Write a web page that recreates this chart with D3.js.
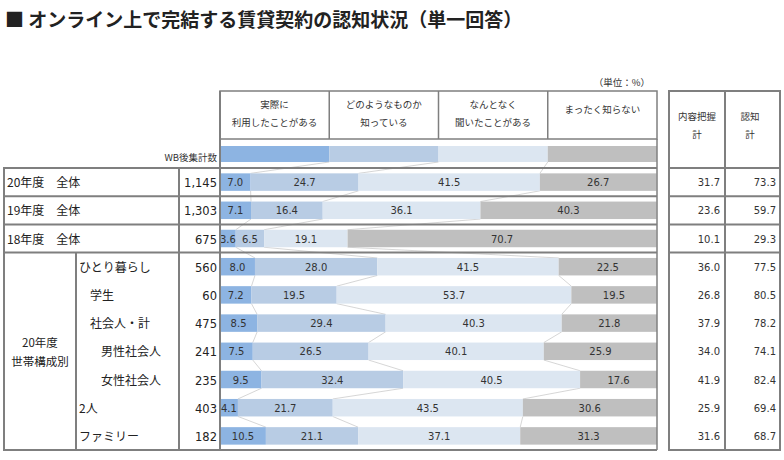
<!DOCTYPE html>
<html><head><meta charset="utf-8">
<script src="https://cdn.jsdelivr.net/npm/d3@7"></script>
<style>
html,body{margin:0;padding:0;background:#fff;}
svg{display:block;}
</style></head>
<body>
<svg id="c" width="784" height="460"></svg>
<script>
const title = "■ オンライン上で完結する賃貸契約の認知状況（単一回答）";
const unitLabel = "（単位：%）";
const countLabel = "WB後集計数";
const categories = ["20年度　全体","19年度　全体","18年度　全体","ひとり暮らし","学生","社会人・計","男性社会人","女性社会人","2人","ファミリー"];
const levels = [0,0,0,0,1,1,2,2,0,0];
const groupLabel = ["20年度","世帯構成別"];
const counts = [1145,1303,675,560,60,475,241,235,403,182];
const seriesNames = [["実際に","利用したことがある"],["どのようなものか","知っている"],["なんとなく","聞いたことがある"],["まったく知らない"]];
const used = [7.0,7.1,3.6,8.0,7.2,8.5,7.5,9.5,4.1,10.5];
const knowWhat = [24.7,16.4,6.5,28.0,19.5,29.4,26.5,32.4,21.7,21.1];
const heard = [41.5,36.1,19.1,41.5,53.7,40.3,40.1,40.5,43.5,37.1];
const notKnow = [26.7,40.3,70.7,22.5,19.5,21.8,25.9,17.6,30.6,31.3];
const totalHeaders = [["内容把握","計"],["認知","計"]];
const contentTotal = [31.7,23.6,10.1,36.0,26.8,37.9,34.0,41.9,25.9,31.6];
const awareTotal = [73.3,59.7,29.3,77.5,80.5,78.2,74.1,82.4,69.4,68.7];

const colors = ["#8db4e2","#b8cce4","#dce6f1","#bfbfbf"];
const lineCol = "#7f7f7f";
const jp = "'Noto Sans CJK JP','Noto Sans',sans-serif";
const num = "'DejaVu Sans',Verdana,sans-serif";

const svg = d3.select("#c");
const keys = ["s0","s1","s2","s3"];
const rows = categories.map((c,i)=>({cat:c,s0:used[i],s1:knowWhat[i],s2:heard[i],s3:notKnow[i]}));
const stacked = d3.stack().keys(keys)(rows);

const x = d3.scaleLinear().domain([0,100]).range([220,657]);
const y = d3.scaleBand().domain(categories).range([168,450]).paddingInner(0.38).paddingOuter(0.19);
const yRow = d3.scaleBand().domain(categories).range([168,450]);

// title
svg.append("text").attr("x",5).attr("y",27).attr("font-family",jp).attr("font-weight","bold")
  .attr("font-size",19).attr("fill","#222").text(title);
svg.append("text").attr("x",650).attr("y",86).attr("text-anchor","end").attr("font-family",jp)
  .attr("font-size",9.5).attr("fill","#333").text(unitLabel);

// legend bar (equal segments)
const legendScale = d3.scaleBand().domain(keys).range([220,657]);
svg.append("g").selectAll("rect").data(keys).join("rect")
  .attr("x",d=>legendScale(d)).attr("width",legendScale.bandwidth())
  .attr("y",146).attr("height",16).attr("fill",(d,i)=>colors[i]);
svg.append("text").attr("x",217).attr("y",161).attr("text-anchor","end").attr("font-family",jp)
  .attr("font-size",9.5).attr("fill","#333").text(countLabel);

// header
const hg = svg.append("g");
hg.append("rect").attr("x",220).attr("y",91).attr("width",437).attr("height",48)
  .attr("fill","none").attr("stroke",lineCol).attr("stroke-width",1.5);
keys.forEach((k,i)=>{
  if(i>0) hg.append("line").attr("x1",legendScale(k)).attr("x2",legendScale(k)).attr("y1",91).attr("y2",139)
    .attr("stroke",lineCol).attr("stroke-width",1.5);
  const cx = legendScale(k)+legendScale.bandwidth()/2;
  const lines = seriesNames[i];
  lines.forEach((t,j)=>{
    const yy = lines.length===1 ? 113 : 108 + j*18;
    hg.append("text").attr("x",cx).attr("y",yy).attr("text-anchor","middle").attr("font-family",jp)
      .attr("font-size",9.5).attr("fill","#333").text(t);
  });
});

// connectors
const cg = svg.append("g");
const legendBounds = [1,2,3].map(j=>legendScale(keys[j]));
for(let j=1;j<4;j++){
  cg.append("line").attr("x1",legendBounds[j-1]).attr("y1",162)
    .attr("x2",x(stacked[j][0][0])).attr("y2",y(categories[0]))
    .attr("stroke","#cccccc").attr("stroke-width",0.8);
  for(let i=0;i<categories.length-1;i++){
    cg.append("line").attr("x1",x(stacked[j][i][0])).attr("y1",y(categories[i])+y.bandwidth())
      .attr("x2",x(stacked[j][i+1][0])).attr("y2",y(categories[i+1]))
      .attr("stroke","#cccccc").attr("stroke-width",0.8);
  }
}

// bars
const bg = svg.append("g");
stacked.forEach((s,j)=>{
  bg.append("g").selectAll("rect").data(s).join("rect")
    .attr("x",d=>x(d[0])).attr("width",d=>x(d[1])-x(d[0]))
    .attr("y",d=>y(d.data.cat)).attr("height",y.bandwidth()).attr("fill",colors[j]);
  bg.append("g").selectAll("text").data(s).join("text")
    .attr("x",d=>(x(d[0])+x(d[1]))/2).attr("y",d=>y(d.data.cat)+y.bandwidth()/2+4)
    .attr("text-anchor","middle").attr("font-family",num).attr("font-size",10).attr("fill","#333")
    .text(d=>(d[1]-d[0]).toFixed(1));
});

// left table
const lg = svg.append("g");
lg.append("rect").attr("x",4).attr("y",168).attr("width",216).attr("height",282)
  .attr("fill","none").attr("stroke",lineCol).attr("stroke-width",2);
[1,2,3].forEach(i=>{
  lg.append("line").attr("x1",4).attr("x2",657).attr("y1",yRow(categories[i])).attr("y2",yRow(categories[i]))
    .attr("stroke",lineCol).attr("stroke-width",2);
});
lg.append("line").attr("x1",220).attr("x2",657).attr("y1",168).attr("y2",168).attr("stroke",lineCol).attr("stroke-width",2);
lg.append("line").attr("x1",220).attr("x2",657).attr("y1",450).attr("y2",450).attr("stroke",lineCol).attr("stroke-width",2);
lg.append("line").attr("x1",179).attr("x2",179).attr("y1",168).attr("y2",450).attr("stroke",lineCol).attr("stroke-width",2);
lg.append("line").attr("x1",76).attr("x2",76).attr("y1",yRow(categories[3])).attr("y2",450).attr("stroke",lineCol).attr("stroke-width",2);
lg.append("line").attr("x1",220).attr("x2",220).attr("y1",91).attr("y2",450).attr("stroke",lineCol).attr("stroke-width",2);
lg.append("line").attr("x1",657).attr("x2",657).attr("y1",139).attr("y2",450).attr("stroke",lineCol).attr("stroke-width",1.5);

const indent = [79,90,101];
lg.selectAll("text.cat").data(categories).join("text").attr("class","cat")
  .attr("x",(d,i)=> i<3 ? 7 : indent[levels[i]])
  .attr("y",d=>yRow(d)+yRow.bandwidth()/2+5)
  .attr("font-family",jp).attr("font-size",12).attr("fill","#222").text(d=>d);
const gTop = yRow(categories[3]);
groupLabel.forEach((t,j)=>{
  lg.append("text").attr("x",40).attr("y",(gTop+450)/2 - 4 + j*19).attr("text-anchor","middle")
    .attr("font-family",jp).attr("font-size",11.5).attr("fill","#222").text(t);
});
const fmt = d3.format(",");
lg.selectAll("text.cnt").data(counts).join("text").attr("class","cnt")
  .attr("x",217).attr("y",(d,i)=>yRow(categories[i])+yRow.bandwidth()/2+5)
  .attr("text-anchor","end").attr("font-family",num).attr("font-size",11.5).attr("fill","#222").text(d=>fmt(d));

// right table
const rg = svg.append("g");
rg.append("rect").attr("x",669).attr("y",91).attr("width",111).attr("height",359)
  .attr("fill","none").attr("stroke",lineCol).attr("stroke-width",2);
rg.append("line").attr("x1",725).attr("x2",725).attr("y1",91).attr("y2",450).attr("stroke",lineCol).attr("stroke-width",2);
[0,1,2,3].forEach(i=>{
  rg.append("line").attr("x1",669).attr("x2",780).attr("y1",yRow(categories[i])).attr("y2",yRow(categories[i]))
    .attr("stroke",lineCol).attr("stroke-width",2);
});
const colCenters = [697,750];
totalHeaders.forEach((h,c)=>{
  h.forEach((t,j)=>{
    rg.append("text").attr("x",colCenters[c]).attr("y",120+j*18).attr("text-anchor","middle")
      .attr("font-family",jp).attr("font-size",9.5).attr("fill","#333").text(t);
  });
});
[[contentTotal,720],[awareTotal,776]].forEach(([arr,rx])=>{
  rg.append("g").selectAll("text").data(arr).join("text")
    .attr("x",rx).attr("y",(d,i)=>yRow(categories[i])+yRow.bandwidth()/2+4)
    .attr("text-anchor","end").attr("font-family",num).attr("font-size",10).attr("fill","#333")
    .text(d=>d.toFixed(1));
});
</script>
</body></html>
